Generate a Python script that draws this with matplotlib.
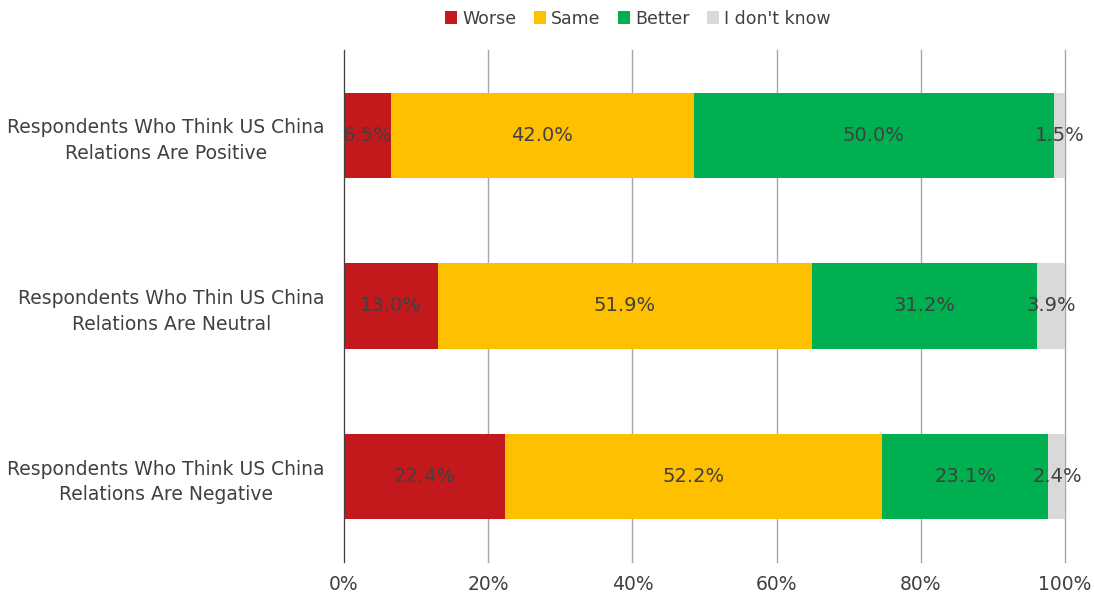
import matplotlib.pyplot as plt
import numpy as np

categories = ["Respondents Who Think US China\nRelations Are Positive",
              "Respondents Who Thin US China\nRelations Are Neutral",
              "Respondents Who Think US China\nRelations Are Negative"]
series = ["Worse", "Same", "Better", "I don't know"]
worse = [6.5, 13.0, 22.4]
same = [42.0, 51.9, 52.2]
better = [50.0, 31.2, 23.1]
dont_know = [1.5, 3.9, 2.4]
colors = ["#C4191C", "#FFC000", "#00B050", "#D9D9D9"]

txt = "#404040"
plt.rcParams['font.family'] = ['DejaVu Sans']

fig = plt.figure(figsize=(10.94, 6.02), dpi=100)
ax = fig.add_axes([0.3144, 0.0664, 0.6591, 0.8506])

y = np.arange(len(categories))[::-1]  # first category on top
left = np.zeros(len(categories))
for name, vals, c in zip(series, [worse, same, better, dont_know], colors):
    vals = np.array(vals)
    ax.barh(y, vals, left=left, height=0.5, color=c, label=name, zorder=3)
    for yi, l, v in zip(y, left, vals):
        ax.text(l + v / 2, yi, "%.1f%%" % v, ha='center', va='center',
                fontsize=14, color=txt, zorder=4)
    left = left + vals

ax.set_xlim(0, 100)
ax.set_ylim(-0.5, 2.5)
ax.set_xticks(np.arange(0, 101, 20))
ax.set_xticklabels(["%d%%" % t for t in range(0, 101, 20)])
ax.set_yticks(y)
ax.set_yticklabels(categories, multialignment='center', linespacing=1.45)
ax.tick_params(axis='both', length=0, labelsize=13.5, labelcolor=txt)
ax.tick_params(axis='x', pad=9)
ax.tick_params(axis='y', pad=14)
ax.grid(axis='x', color='#A6A6A6', linewidth=1, zorder=0)
for gl in ax.get_xgridlines():
    gl.set_clip_on(False)
for s in ['top', 'right', 'bottom']:
    ax.spines[s].set_visible(False)
ax.spines['left'].set_color('#404040')
ax.spines['left'].set_zorder(5)

leg = fig.legend(loc='upper center', bbox_to_anchor=(0.583, 1.01), ncol=4,
                 frameon=False, fontsize=12.5, handlelength=0.7, handleheight=0.7,
                 handletextpad=0.3, columnspacing=1.0)
for t in leg.get_texts():
    t.set_color(txt)

fig.savefig("out.png", dpi=100)
